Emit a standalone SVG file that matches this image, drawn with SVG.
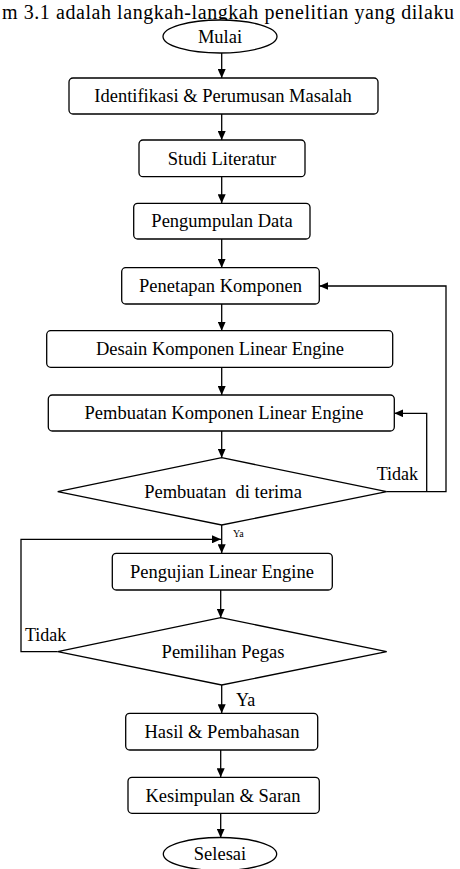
<svg xmlns="http://www.w3.org/2000/svg" width="460" height="869" viewBox="0 0 460 869">
<defs>
<marker id="ah" markerWidth="10" markerHeight="8" refX="9" refY="4" orient="auto" markerUnits="userSpaceOnUse">
<path d="M0,0 L9,4 L0,8 Z" fill="#000"/>
</marker>
<style>
.box{fill:#fff;stroke:#000;stroke-width:1.3}
.t{font-family:'Liberation Serif',serif;font-size:18.5px;fill:#000;text-anchor:middle}
.l{font-family:'Liberation Serif',serif;font-size:18px;fill:#000}
.s{font-family:'Liberation Serif',serif;font-size:10px;fill:#000}
.c{fill:none;stroke:#000;stroke-width:1.3}
</style>
</defs>
<rect width="460" height="869" fill="#fff"/>
<text x="2" y="18.5" textLength="452" lengthAdjust="spacing" style="font-family:'Liberation Serif',serif;font-size:20px" fill="#000">m 3.1 adalah langkah-langkah penelitian yang dilaku</text>
<g id="connectors">
<line class="c" x1="221.7" y1="53" x2="221.7" y2="78" marker-end="url(#ah)"/>
<line class="c" x1="221.7" y1="114" x2="221.7" y2="140" marker-end="url(#ah)"/>
<line class="c" x1="221.7" y1="176.7" x2="221.7" y2="203.3" marker-end="url(#ah)"/>
<line class="c" x1="221.7" y1="239" x2="221.7" y2="267.7" marker-end="url(#ah)"/>
<line class="c" x1="221.7" y1="304" x2="221.7" y2="330.7" marker-end="url(#ah)"/>
<line class="c" x1="221.7" y1="367.3" x2="221.7" y2="395" marker-end="url(#ah)"/>
<line class="c" x1="221.7" y1="431" x2="221.7" y2="457.7" marker-end="url(#ah)"/>
<polyline class="c" points="386.7,491.7 446,491.7 446,286 319.3,286" marker-end="url(#ah)"/>
<polyline class="c" points="426.7,491.7 426.7,413.3 394.3,413.3" marker-end="url(#ah)"/>
<line class="c" x1="221.7" y1="525" x2="221.7" y2="553.3" marker-end="url(#ah)"/>
<polyline class="c" points="57.7,651.7 21,651.7 21,539.3 221,539.3" marker-end="url(#ah)"/>
<line class="c" x1="220.7" y1="590" x2="220.7" y2="617.7" marker-end="url(#ah)"/>
<line class="c" x1="221.7" y1="685" x2="221.7" y2="713.3" marker-end="url(#ah)"/>
<line class="c" x1="220.7" y1="750" x2="220.7" y2="777.3" marker-end="url(#ah)"/>
<line class="c" x1="220.7" y1="813.3" x2="220.7" y2="837.7" marker-end="url(#ah)"/>
<text class="l" x="376.7" y="480">Tidak</text>
<text class="s" x="233" y="537">Ya</text>
<text class="l" x="25" y="640.7">Tidak</text>
<text class="l" x="236" y="706">Ya</text>
</g>
<g id="mulai">
<ellipse class="box" cx="220" cy="36.5" rx="57" ry="16.5"/>
<text class="t" x="220" y="42.5">Mulai</text>
</g>
<g id="identifikasi">
<rect class="box" x="69" y="78" width="309" height="36" rx="4"/>
<text class="t" x="223" y="101.7">Identifikasi &amp; Perumusan Masalah</text>
</g>
<g id="studi">
<rect class="box" x="139" y="140" width="166" height="36.7" rx="4"/>
<text class="t" x="222" y="164.5">Studi Literatur</text>
</g>
<g id="pengumpulan">
<rect class="box" x="133.7" y="203.3" width="176.3" height="35.7" rx="4"/>
<text class="t" x="222" y="227">Pengumpulan Data</text>
</g>
<g id="penetapan">
<rect class="box" x="121.7" y="267.7" width="197.6" height="36.3" rx="4"/>
<text class="t" x="220.5" y="292">Penetapan Komponen</text>
</g>
<g id="desain">
<rect class="box" x="46.7" y="330.7" width="346" height="36.6" rx="4"/>
<text class="t" x="220" y="355">Desain Komponen Linear Engine</text>
</g>
<g id="pembuatan">
<rect class="box" x="48.3" y="395" width="346" height="36" rx="4"/>
<text class="t" x="224" y="419">Pembuatan Komponen Linear Engine</text>
</g>
<g id="diterima">
<polygon class="box" points="221.7,457.7 386.7,491.7 221.7,525 57.7,491.7"/>
<text class="t" x="223" y="497.5" xml:space="preserve">Pembuatan  di terima</text>
</g>
<g id="pengujian">
<rect class="box" x="112.3" y="553.3" width="220" height="36.7" rx="4"/>
<text class="t" x="222" y="577.5">Pengujian Linear Engine</text>
</g>
<g id="pemilihan">
<polygon class="box" points="220.7,617.7 386.7,651.7 221.7,685 57.7,651.7"/>
<text class="t" x="223" y="657.5">Pemilihan Pegas</text>
</g>
<g id="hasil">
<rect class="box" x="125.7" y="713.3" width="192" height="36.7" rx="4"/>
<text class="t" x="222" y="737.5">Hasil &amp; Pembahasan</text>
</g>
<g id="kesimpulan">
<rect class="box" x="128" y="777.3" width="191.3" height="36" rx="4"/>
<text class="t" x="223" y="801.5">Kesimpulan &amp; Saran</text>
</g>
<g id="selesai">
<ellipse class="box" cx="220" cy="854" rx="56.7" ry="16.5"/>
<text class="t" x="220" y="860">Selesai</text>
</g>
</svg>
